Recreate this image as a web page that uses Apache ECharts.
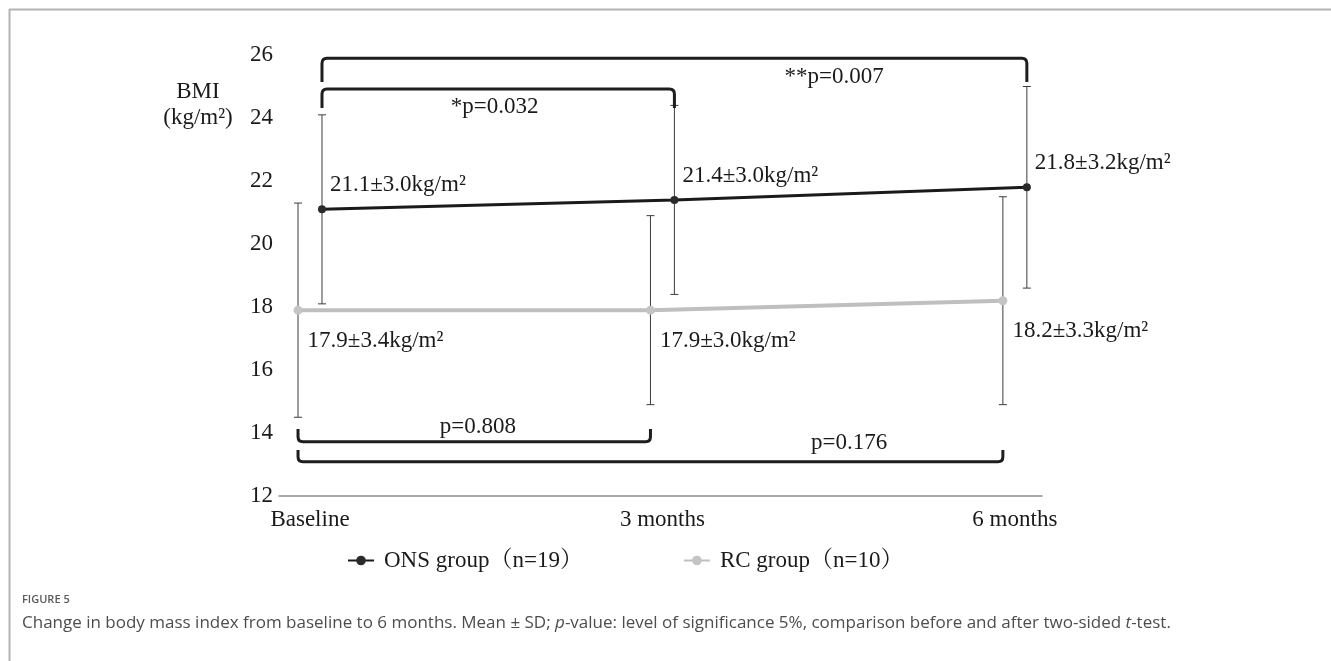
<!DOCTYPE html>
<html><head><meta charset="utf-8">
<script src="https://cdn.jsdelivr.net/npm/echarts@6/dist/echarts.min.js"></script>
<style>html,body{margin:0;padding:0;background:#fff}#c{width:1331px;height:661px}</style>
</head><body><div id="c"></div>
<script>
// ---- data ----
const categories = ['Baseline', '3 months', '6 months'];
const onsMean = [21.1, 21.4, 21.8];
const onsSD = [3.0, 3.0, 3.2];
const rcMean = [17.9, 17.9, 18.2];
const rcSD = [3.4, 3.0, 3.3];
const seriesNames = ['ONS group（n=19）', 'RC group（n=10）'];
const yMin = 12, yMax = 26, yStep = 2;
// significance comparisons between time points
const comparisons = [
  { group: 'ONS', from: 0, to: 2, label: '**p=0.007' },
  { group: 'ONS', from: 0, to: 1, label: '*p=0.032' },
  { group: 'RC', from: 0, to: 1, label: 'p=0.808' },
  { group: 'RC', from: 0, to: 2, label: 'p=0.176' }
];

// ---- layout (positions, not data) ----
const groupShift = { ONS: 0.034, RC: -0.034 };
// bracket [barLevel, endLevel, labelX, labelY] in axis units
const bracketLayout = [
  [25.90, 25.14, 1.487, 25.30],
  [24.92, 24.32, 0.524, 24.36],
  [13.72, 14.13, 0.476, 14.20],
  [13.09, 13.46, 1.530, 13.68]
];
const SERIF = '"Liberation Serif", "Times New Roman", "Noto Serif CJK SC", "Noto Sans CJK SC", serif';
const SANS = '"Open Sans", "Noto Sans", sans-serif';

const chart = echarts.init(document.getElementById('c'), null, { renderer: 'canvas' });

function pts(mean, shift) { return mean.map((m, i) => [i + shift, m]); }
function errs(mean, sd, shift) { return mean.map((m, i) => [i + shift, m - sd[i], m + sd[i]]); }
function lbl(mean, sd) { return mean.map((m, i) => m.toFixed(1) + '±' + sd[i].toFixed(1) + 'kg/m²'); }

const onsLabels = lbl(onsMean, onsSD);
const rcLabels = lbl(rcMean, rcSD);

const bracketData = comparisons.map((c, k) => {
  const s = groupShift[c.group];
  const L = bracketLayout[k];
  return [c.from + s, c.to + s, L[0], L[1], L[2], L[3], k];
});

function errorRender(params, api) {
  const x = api.value(0);
  const lo = api.coord([x, api.value(1)]);
  const hi = api.coord([x, api.value(2)]);
  const w = 4;
  const st = { stroke: '#3c3c3c', lineWidth: 1 };
  return {
    type: 'group',
    children: [
      { type: 'line', shape: { x1: lo[0], y1: lo[1], x2: hi[0], y2: hi[1] }, style: st },
      { type: 'line', shape: { x1: lo[0] - w, y1: lo[1], x2: lo[0] + w, y2: lo[1] }, style: st },
      { type: 'line', shape: { x1: hi[0] - w, y1: hi[1], x2: hi[0] + w, y2: hi[1] }, style: st }
    ]
  };
}

function bracketRender(params, api) {
  const a = api.coord([api.value(0), api.value(2)]);
  const b = api.coord([api.value(1), api.value(2)]);
  const e = api.coord([api.value(0), api.value(3)]);
  const t = api.coord([api.value(4), api.value(5)]);
  const k = api.value(6);
  const yBar = a[1], yEnd = e[1];
  const sg = yEnd > yBar ? 1 : -1;
  const r = 5;
  const d = 'M' + a[0] + ' ' + yEnd + ' L' + a[0] + ' ' + (yBar + sg * r) +
    ' Q' + a[0] + ' ' + yBar + ' ' + (a[0] + r) + ' ' + yBar +
    ' L' + (b[0] - r) + ' ' + yBar +
    ' Q' + b[0] + ' ' + yBar + ' ' + b[0] + ' ' + (yBar + sg * r) +
    ' L' + b[0] + ' ' + yEnd;
  return {
    type: 'group',
    children: [
      { type: 'path', shape: { pathData: d }, style: { stroke: '#1e1e1e', lineWidth: 3, fill: null } },
      { type: 'text', x: t[0], y: t[1], style: { text: comparisons[k].label, font: '23px ' + SERIF, fill: '#1a1a1a', align: 'center', verticalAlign: 'middle' } }
    ]
  };
}

const option = {
  animation: false,
  backgroundColor: '#ffffff',
  grid: { left: 279, right: 289, top: 55, bottom: 165, containLabel: false },
  xAxis: {
    type: 'value', min: -0.088, max: 2.077,
    axisLine: { show: true, lineStyle: { color: '#8c8c8c', width: 1.5 } },
    axisTick: { show: false },
    splitLine: { show: false },
    axisLabel: {
      customValues: [0, 1, 2],
      formatter: v => categories[Math.round(v)] || '',
      fontFamily: SERIF, fontSize: 23, color: '#1a1a1a', margin: 12
    }
  },
  yAxis: {
    type: 'value', min: yMin, max: yMax, interval: yStep,
    axisLine: { show: false }, axisTick: { show: false }, splitLine: { show: false },
    axisLabel: { fontFamily: SERIF, fontSize: 23, color: '#1a1a1a', margin: 6 }
  },
  legend: {
    left: 342, top: 544,
    itemWidth: 26, itemHeight: 12, itemGap: 100,
    textStyle: { fontFamily: SERIF, fontSize: 23, color: '#1a1a1a', padding: [0, 0, 0, 5] },
    data: seriesNames
  },
  series: [
    {
      type: 'custom', name: 'errONS', renderItem: errorRender, encode: { x: 0, y: [1, 2] },
      data: errs(onsMean, onsSD, groupShift.ONS), z: 1, silent: true
    },
    {
      type: 'custom', name: 'errRC', renderItem: errorRender, encode: { x: 0, y: [1, 2] },
      data: errs(rcMean, rcSD, groupShift.RC), z: 1, silent: true
    },
    {
      type: 'line', name: seriesNames[1], data: pts(rcMean, groupShift.RC), z: 3,
      symbol: 'circle', symbolSize: 9,
      lineStyle: { color: '#bfbfbf', width: 4 },
      itemStyle: { color: '#c4c4c4' },
      label: {
        show: true, position: [14, 35], align: 'left', verticalAlign: 'middle',
        formatter: p => rcLabels[p.dataIndex],
        fontFamily: SERIF, fontSize: 23, color: '#1a1a1a'
      }
    },
    {
      type: 'line', name: seriesNames[0], data: pts(onsMean, groupShift.ONS), z: 4,
      symbol: 'circle', symbolSize: 8,
      lineStyle: { color: '#1a1a1a', width: 3 },
      itemStyle: { color: '#2a2a2a' },
      label: {
        show: true, position: [12, -20], align: 'left', verticalAlign: 'middle',
        formatter: p => onsLabels[p.dataIndex],
        fontFamily: SERIF, fontSize: 23, color: '#1a1a1a'
      }
    },
    {
      type: 'custom', name: 'brackets', renderItem: bracketRender,
      encode: { x: [0, 1], y: [2, 3] }, data: bracketData, z: 5, silent: true
    }
  ],
  graphic: [
    { type: 'line', shape: { x1: 9.5, y1: 9, x2: 9.5, y2: 661 }, style: { stroke: '#b3b3b3', lineWidth: 2 } },
    { type: 'line', shape: { x1: 9, y1: 9.5, x2: 1331, y2: 9.5 }, style: { stroke: '#b3b3b3', lineWidth: 2 } },
    { type: 'text', x: 198, y: 92, style: { text: 'BMI', font: '23px ' + SERIF, fill: '#1a1a1a', align: 'center', verticalAlign: 'middle' } },
    { type: 'text', x: 198, y: 118, style: { text: '(kg/m²)', font: '23px ' + SERIF, fill: '#1a1a1a', align: 'center', verticalAlign: 'middle' } },
    { type: 'text', x: 22, y: 600, style: { text: 'FIGURE 5', font: '600 11px ' + SANS, fill: '#5a5a5a', verticalAlign: 'middle' } },
    {
      type: 'text', x: 22, y: 623,
      style: {
        text: 'Change in body mass index from baseline to 6 months. Mean ± SD; {i|p}-value: level of significance 5%, comparison before and after two-sided {i|t}-test.',
        font: '17px ' + SANS, fill: '#4d4d4d', verticalAlign: 'middle',
        rich: { i: { fontStyle: 'italic', fontSize: 17, fontFamily: SANS, fill: '#4d4d4d' } }
      }
    }
  ]
};
chart.setOption(option);
</script>
</body></html>
